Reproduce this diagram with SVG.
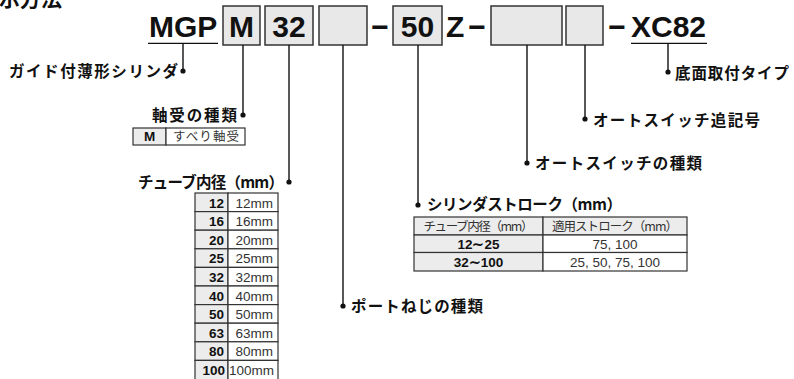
<svg xmlns="http://www.w3.org/2000/svg" width="794" height="379" viewBox="0 0 794 379">
<style>
.bg{fill:#ffffff}
.code{font-family:"Liberation Sans",Arial,sans-serif;font-weight:bold;font-size:30px;fill:#111}
.box{fill:#e8e8e8;stroke:#333;stroke-width:1.5}
.lead{stroke:#111;stroke-width:1.4;fill:none}
.dot{fill:#111}
.lbl{font-family:"Noto Sans CJK JP",sans-serif;font-weight:bold;font-size:15.5px;fill:#111}
.cellg{fill:#ececec;stroke:#333;stroke-width:1.2}
.cellw{fill:#ffffff;stroke:#333;stroke-width:1.2}
.jt{font-family:"Noto Sans CJK JP",sans-serif;font-size:12.5px;fill:#333}
.nb{font-family:"Liberation Sans",Arial,sans-serif;font-weight:bold;font-size:13.5px;fill:#111}
.nr{font-family:"Liberation Sans",Arial,sans-serif;font-size:13.5px;fill:#333}
</style>
<rect class="bg" x="0" y="0" width="794" height="379"/>

<g id="title">
<text x="-1" y="6" font-family="'Noto Sans CJK JP',sans-serif" font-weight="bold" font-size="21" fill="#111">示方法</text>
</g>

<g id="code">
<text class="code" x="149" y="37">MGP</text>
<line x1="148" y1="43.3" x2="218" y2="43.3" stroke="#111" stroke-width="1.2"/>
<rect class="box" x="223" y="6" width="37" height="39"/>
<text class="code" x="241.5" y="37" text-anchor="middle">M</text>
<rect class="box" x="265" y="6" width="48" height="39"/>
<text class="code" x="289" y="37" text-anchor="middle">32</text>
<rect class="box" x="319" y="6" width="48" height="39"/>
<text class="code" x="380" y="37" text-anchor="middle">−</text>
<rect class="box" x="393" y="6" width="49" height="39"/>
<text class="code" x="417.5" y="37" text-anchor="middle">50</text>
<text class="code" x="446" y="37">Z</text>
<text class="code" x="477" y="37" text-anchor="middle">−</text>
<rect class="box" x="491" y="6" width="71" height="39"/>
<rect class="box" x="566" y="6" width="37" height="39"/>
<text class="code" x="617" y="37" text-anchor="middle">−</text>
<text class="code" x="631" y="37">XC82</text>
<line x1="631" y1="43.3" x2="707" y2="43.3" stroke="#111" stroke-width="1.2"/>
</g>

<g id="connectors">
<line class="lead" x1="183" y1="43.3" x2="183" y2="71"/>
<circle class="dot" cx="183" cy="71" r="2.6"/>
<line class="lead" x1="243" y1="45" x2="243" y2="115"/>
<circle class="dot" cx="243" cy="115" r="2.6"/>
<line class="lead" x1="289" y1="45" x2="289" y2="182"/>
<circle class="dot" cx="289" cy="182" r="2.6"/>
<line class="lead" x1="343" y1="45" x2="343" y2="306"/>
<circle class="dot" cx="343" cy="306" r="2.6"/>
<line class="lead" x1="418" y1="45" x2="418" y2="205"/>
<circle class="dot" cx="418" cy="205" r="2.6"/>
<line class="lead" x1="527" y1="45" x2="527" y2="163"/>
<circle class="dot" cx="527" cy="163" r="2.6"/>
<line class="lead" x1="585" y1="45" x2="585" y2="119"/>
<circle class="dot" cx="585" cy="119" r="2.6"/>
<line class="lead" x1="668" y1="43.3" x2="668" y2="72"/>
<circle class="dot" cx="668" cy="72" r="2.6"/>
</g>

<g id="label-series">
<text class="lbl" x="9" y="77" textLength="169" lengthAdjust="spacing">ガイド付薄形シリンダ</text>
</g>

<g id="label-bearing">
<text class="lbl" x="152" y="121" textLength="85" lengthAdjust="spacing">軸受の種類</text>
<rect class="cellg" x="133" y="128" width="33" height="17"/>
<rect class="cellw" x="166" y="128" width="79" height="17"/>
<text class="nb" x="149.5" y="141" text-anchor="middle" font-size="12.5">M</text>
<text class="jt" x="173" y="141" textLength="66" lengthAdjust="spacing">すべり軸受</text>
</g>

<g id="label-bore">
<text class="lbl" x="138" y="188" textLength="146" lengthAdjust="spacing">チューブ内径（mm）</text>
<g>
<rect class="cellg" x="195" y="193" width="33" height="18.6"/><rect class="cellw" x="228" y="193" width="50" height="18.6"/>
<text class="nb" x="224" y="207.5" text-anchor="end">12</text><text class="nr" x="273" y="207.5" text-anchor="end">12mm</text>
<rect class="cellg" x="195" y="211.6" width="33" height="18.6"/><rect class="cellw" x="228" y="211.6" width="50" height="18.6"/>
<text class="nb" x="224" y="226.1" text-anchor="end">16</text><text class="nr" x="273" y="226.1" text-anchor="end">16mm</text>
<rect class="cellg" x="195" y="230.2" width="33" height="18.6"/><rect class="cellw" x="228" y="230.2" width="50" height="18.6"/>
<text class="nb" x="224" y="244.7" text-anchor="end">20</text><text class="nr" x="273" y="244.7" text-anchor="end">20mm</text>
<rect class="cellg" x="195" y="248.8" width="33" height="18.6"/><rect class="cellw" x="228" y="248.8" width="50" height="18.6"/>
<text class="nb" x="224" y="263.3" text-anchor="end">25</text><text class="nr" x="273" y="263.3" text-anchor="end">25mm</text>
<rect class="cellg" x="195" y="267.4" width="33" height="18.6"/><rect class="cellw" x="228" y="267.4" width="50" height="18.6"/>
<text class="nb" x="224" y="281.9" text-anchor="end">32</text><text class="nr" x="273" y="281.9" text-anchor="end">32mm</text>
<rect class="cellg" x="195" y="286" width="33" height="18.6"/><rect class="cellw" x="228" y="286" width="50" height="18.6"/>
<text class="nb" x="224" y="300.5" text-anchor="end">40</text><text class="nr" x="273" y="300.5" text-anchor="end">40mm</text>
<rect class="cellg" x="195" y="304.6" width="33" height="18.6"/><rect class="cellw" x="228" y="304.6" width="50" height="18.6"/>
<text class="nb" x="224" y="319.1" text-anchor="end">50</text><text class="nr" x="273" y="319.1" text-anchor="end">50mm</text>
<rect class="cellg" x="195" y="323.2" width="33" height="18.6"/><rect class="cellw" x="228" y="323.2" width="50" height="18.6"/>
<text class="nb" x="224" y="337.7" text-anchor="end">63</text><text class="nr" x="273" y="337.7" text-anchor="end">63mm</text>
<rect class="cellg" x="195" y="341.8" width="33" height="18.6"/><rect class="cellw" x="228" y="341.8" width="50" height="18.6"/>
<text class="nb" x="224" y="356.3" text-anchor="end">80</text><text class="nr" x="273" y="356.3" text-anchor="end">80mm</text>
<rect class="cellg" x="195" y="360.4" width="33" height="20"/><rect class="cellw" x="228" y="360.4" width="50" height="20"/>
<text class="nb" x="225" y="374.9" text-anchor="end">100</text><text class="nr" x="274" y="374.9" text-anchor="end">100mm</text>
</g>
</g>

<g id="label-port">
<text class="lbl" x="351" y="312" textLength="132" lengthAdjust="spacing">ポートねじの種類</text>
</g>

<g id="label-stroke">
<text class="lbl" x="427" y="210" textLength="195" lengthAdjust="spacing">シリンダストローク（mm）</text>
<rect class="cellg" x="414" y="217" width="129" height="18"/>
<rect class="cellg" x="543" y="217" width="144" height="18"/>
<rect class="cellg" x="414" y="235" width="129" height="17.5"/>
<rect class="cellw" x="543" y="235" width="144" height="17.5"/>
<rect class="cellg" x="414" y="252.5" width="129" height="18.5"/>
<rect class="cellw" x="543" y="252.5" width="144" height="18.5"/>
<text class="jt" x="478.5" y="230.5" text-anchor="middle" textLength="110" lengthAdjust="spacing">チューブ内径（mm）</text>
<text class="jt" x="615" y="230.5" text-anchor="middle" textLength="126" lengthAdjust="spacing">適用ストローク（mm）</text>
<text class="nb" x="478.5" y="248.5" text-anchor="middle">12∼25</text>
<text class="nr" x="615" y="248.5" text-anchor="middle">75, 100</text>
<text class="nb" x="478.5" y="267" text-anchor="middle">32∼100</text>
<text class="nr" x="615" y="267" text-anchor="middle">25, 50, 75, 100</text>
</g>

<g id="label-switch">
<text class="lbl" x="535" y="169" textLength="167" lengthAdjust="spacing">オートスイッチの種類</text>
</g>

<g id="label-suffix">
<text class="lbl" x="593" y="126" textLength="167" lengthAdjust="spacing">オートスイッチ追記号</text>
</g>

<g id="label-mount">
<text class="lbl" x="675" y="79" textLength="114" lengthAdjust="spacing">底面取付タイプ</text>
</g>
</svg>
